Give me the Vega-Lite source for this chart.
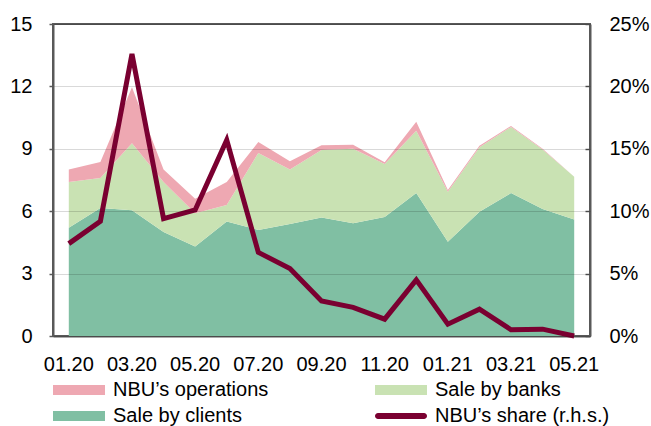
{
  "$schema": "https://vega.github.io/schema/vega-lite/v6.json",
  "width": 537,
  "height": 312,
  "autosize": {"type": "none"},
  "padding": {"left": 53, "top": 24, "right": 61, "bottom": 90},
  "background": "white",
  "config": {
    "font": "Liberation Sans",
    "view": {"stroke": "#595959", "strokeWidth": 2},
    "axis": {"labelFont": "Liberation Sans", "labelFontSize": 20, "labelColor": "#000000", "domainColor": "#595959", "domainWidth": 2, "tickColor": "#595959", "tickWidth": 1.5, "title": null}
  },
  "data": {"values": [
    {"month": "01.20", "series": "Sale by clients", "value": 5.2},
    {"month": "01.20", "series": "Sale by banks", "value": 2.2},
    {"month": "01.20", "series": "NBU’s operations", "value": 0.6},
    {"month": "01.20", "series": "NBU’s share (r.h.s.)", "value": 0.074},
    {"month": "02.20", "series": "Sale by clients", "value": 6.15},
    {"month": "02.20", "series": "Sale by banks", "value": 1.45},
    {"month": "02.20", "series": "NBU’s operations", "value": 0.77},
    {"month": "02.20", "series": "NBU’s share (r.h.s.)", "value": 0.092},
    {"month": "03.20", "series": "Sale by clients", "value": 6.05},
    {"month": "03.20", "series": "Sale by banks", "value": 3.22},
    {"month": "03.20", "series": "NBU’s operations", "value": 2.69},
    {"month": "03.20", "series": "NBU’s share (r.h.s.)", "value": 0.226},
    {"month": "04.20", "series": "Sale by clients", "value": 5.0},
    {"month": "04.20", "series": "Sale by banks", "value": 2.4},
    {"month": "04.20", "series": "NBU’s operations", "value": 0.6},
    {"month": "04.20", "series": "NBU’s share (r.h.s.)", "value": 0.094},
    {"month": "05.20", "series": "Sale by clients", "value": 4.3},
    {"month": "05.20", "series": "Sale by banks", "value": 1.6},
    {"month": "05.20", "series": "NBU’s operations", "value": 0.7},
    {"month": "05.20", "series": "NBU’s share (r.h.s.)", "value": 0.101},
    {"month": "06.20", "series": "Sale by clients", "value": 5.5},
    {"month": "06.20", "series": "Sale by banks", "value": 0.8},
    {"month": "06.20", "series": "NBU’s operations", "value": 1.1},
    {"month": "06.20", "series": "NBU’s share (r.h.s.)", "value": 0.157},
    {"month": "07.20", "series": "Sale by clients", "value": 5.1},
    {"month": "07.20", "series": "Sale by banks", "value": 3.7},
    {"month": "07.20", "series": "NBU’s operations", "value": 0.53},
    {"month": "07.20", "series": "NBU’s share (r.h.s.)", "value": 0.067},
    {"month": "08.20", "series": "Sale by clients", "value": 5.38},
    {"month": "08.20", "series": "Sale by banks", "value": 2.62},
    {"month": "08.20", "series": "NBU’s operations", "value": 0.4},
    {"month": "08.20", "series": "NBU’s share (r.h.s.)", "value": 0.054},
    {"month": "09.20", "series": "Sale by clients", "value": 5.7},
    {"month": "09.20", "series": "Sale by banks", "value": 3.24},
    {"month": "09.20", "series": "NBU’s operations", "value": 0.23},
    {"month": "09.20", "series": "NBU’s share (r.h.s.)", "value": 0.028},
    {"month": "10.20", "series": "Sale by clients", "value": 5.42},
    {"month": "10.20", "series": "Sale by banks", "value": 3.58},
    {"month": "10.20", "series": "NBU’s operations", "value": 0.2},
    {"month": "10.20", "series": "NBU’s share (r.h.s.)", "value": 0.023},
    {"month": "11.20", "series": "Sale by clients", "value": 5.72},
    {"month": "11.20", "series": "Sale by banks", "value": 2.55},
    {"month": "11.20", "series": "NBU’s operations", "value": 0.08},
    {"month": "11.20", "series": "NBU’s share (r.h.s.)", "value": 0.0135},
    {"month": "12.20", "series": "Sale by clients", "value": 6.88},
    {"month": "12.20", "series": "Sale by banks", "value": 2.99},
    {"month": "12.20", "series": "NBU’s operations", "value": 0.43},
    {"month": "12.20", "series": "NBU’s share (r.h.s.)", "value": 0.045},
    {"month": "01.21", "series": "Sale by clients", "value": 4.53},
    {"month": "01.21", "series": "Sale by banks", "value": 2.4},
    {"month": "01.21", "series": "NBU’s operations", "value": 0.09},
    {"month": "01.21", "series": "NBU’s share (r.h.s.)", "value": 0.0095},
    {"month": "02.21", "series": "Sale by clients", "value": 5.97},
    {"month": "02.21", "series": "Sale by banks", "value": 3.1},
    {"month": "02.21", "series": "NBU’s operations", "value": 0.08},
    {"month": "02.21", "series": "NBU’s share (r.h.s.)", "value": 0.0215},
    {"month": "03.21", "series": "Sale by clients", "value": 6.87},
    {"month": "03.21", "series": "Sale by banks", "value": 3.18},
    {"month": "03.21", "series": "NBU’s operations", "value": 0.05},
    {"month": "03.21", "series": "NBU’s share (r.h.s.)", "value": 0.005},
    {"month": "04.21", "series": "Sale by clients", "value": 6.1},
    {"month": "04.21", "series": "Sale by banks", "value": 2.87},
    {"month": "04.21", "series": "NBU’s operations", "value": 0.03},
    {"month": "04.21", "series": "NBU’s share (r.h.s.)", "value": 0.0055},
    {"month": "05.21", "series": "Sale by clients", "value": 5.6},
    {"month": "05.21", "series": "Sale by banks", "value": 2.06},
    {"month": "05.21", "series": "NBU’s operations", "value": 0.0},
    {"month": "05.21", "series": "NBU’s share (r.h.s.)", "value": 0.0}
  ]},
  "encoding": {
    "x": {
      "field": "month", "type": "ordinal", "bandPosition": 0.5,
      "scale": {"type": "band", "paddingInner": 0, "paddingOuter": 0,
        "domain": ["01.20","02.20","03.20","04.20","05.20","06.20","07.20","08.20","09.20","10.20","11.20","12.20","01.21","02.21","03.21","04.21","05.21"]}
    },
    "color": {
      "field": "series", "type": "nominal",
      "scale": {
        "domain": ["NBU’s operations", "Sale by banks", "Sale by clients", "NBU’s share (r.h.s.)"],
        "range": ["#EEA8B2", "#C9E2B3", "#80BFA3", "#7A0031"]
      },
      "legend": {
        "orient": "bottom", "direction": "horizontal", "columns": 2, "title": null,
        "labelFont": "Liberation Sans", "labelFontSize": 20, "labelColor": "#000000", "labelLimit": 400,
        "symbolSize": 100, "symbolStrokeWidth": 0, "labelOffset": 40,
        "columnPadding": 106, "rowPadding": 6, "offset": 6,
        "encode": {"symbols": {"update": {
          "shape": {"signal": "datum.value === 'NBU’s share (r.h.s.)' ? 'M-1.4,-0.6H7.8A0.6,0.6 0 0 1 7.8,0.6H-1.4A0.6,0.6 0 0 1 -1.4,-0.6Z' : 'M-2,-1H8.4V1H-2Z'"},
          "fill": {"scale": "color", "field": "value"},
          "strokeWidth": {"value": 0},
          "opacity": {"value": 1}
        }}}
      }
    }
  },
  "layer": [
    {
      "transform": [{"filter": "datum.series !== 'NBU’s share (r.h.s.)'"}],
      "mark": {"type": "area", "opacity": 1},
      "encoding": {
        "x": {"field": "month", "type": "ordinal", "bandPosition": 0.5,
          "axis": {"orient": "bottom", "values": ["01.20","03.20","05.20","07.20","09.20","11.20","01.21","03.21","05.21"], "ticks": false, "labelAngle": 0, "labelPadding": 18, "domain": true, "grid": false}},
        "y": {
          "field": "value", "type": "quantitative", "stack": "zero",
          "scale": {"domain": [0, 15], "nice": false},
          "axis": {"orient": "left", "values": [0, 3, 6, 9, 12, 15], "grid": true, "gridColor": "#000000", "gridOpacity": 0.15, "gridWidth": 1, "tickSize": 4, "labelPadding": 17, "zindex": 1}
        },
        "order": {"field": "series", "sort": "descending"}
      }
    },
    {
      "transform": [{"filter": "datum.series === 'NBU’s share (r.h.s.)'"}],
      "mark": {"type": "line", "strokeWidth": 5, "strokeJoin": "miter", "strokeCap": "butt"},
      "encoding": {
        "x": {"field": "month", "type": "ordinal", "bandPosition": 0.5,
          "axis": {"orient": "bottom", "values": ["03.20","05.20","07.20","09.20","11.20","01.21","03.21"], "bandPosition": 0, "ticks": true, "tickSize": -4, "labels": false, "domain": false, "grid": false}},
        "y": {
          "field": "value", "type": "quantitative",
          "scale": {"domain": [0, 0.25], "nice": false},
          "axis": {"orient": "right", "values": [0, 0.05, 0.1, 0.15, 0.2, 0.25], "format": ".0%", "grid": false, "tickSize": -5, "labelPadding": 24}
        }
      }
    }
  ],
  "resolve": {"scale": {"y": "independent"}, "axis": {"x": "independent", "y": "independent"}}
}
